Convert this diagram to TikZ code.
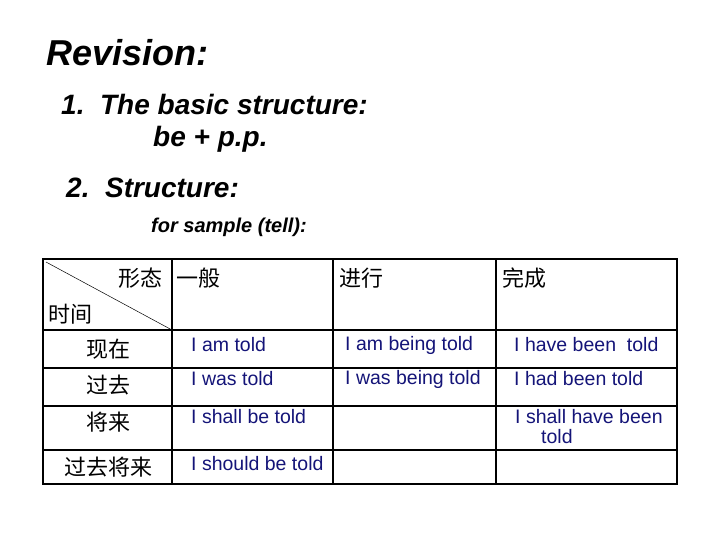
\documentclass[tikz,border=0pt]{standalone}
\usepackage{fontspec}
\setmainfont{Liberation Sans}
\newfontfamily\cjk{Noto Sans CJK SC}
\definecolor{navy}{RGB}{20,20,120}
\begin{document}
\begin{tikzpicture}[x=1pt,y=-1pt,
  head/.style={anchor=west,inner sep=0pt,font=\bfseries\itshape},
  en/.style={anchor=west,inner sep=0pt,text=navy,font=\fontsize{19.5}{19.5}\selectfont},
  zh/.style={inner sep=0pt,font=\cjk\fontsize{22}{22}\selectfont},
  grid/.style={line width=1.2pt}]
\useasboundingbox (0,0) rectangle (720,540);
\node[head,font=\bfseries\itshape\fontsize{36}{36}\selectfont] (t0) at (46,53) {Revision:};
\node[head,font=\bfseries\itshape\fontsize{28}{28}\selectfont] (t1) at (61,104) {1.\ \ The basic structure:};
\node[head,font=\bfseries\itshape\fontsize{28}{28}\selectfont] (t2) at (153,139) {be + p.p.};
\node[head,font=\bfseries\itshape\fontsize{28}{28}\selectfont] (t3) at (66,188) {2.\ \ Structure:};
\node[head,font=\bfseries\itshape\fontsize{20}{20}\selectfont] (t4) at (151,227) {for sample (tell):};
% table
\draw[grid] (43,259) rectangle (677,484);
\foreach \x in {172,333,496} \draw[grid] (\x,259) -- (\x,484);
\foreach \y in {330,368,406,450} \draw[grid] (43,\y) -- (677,\y);
\draw[line width=0.5pt] (46,262) -- (172,330);
\node[zh,anchor=east] (h1) at (163,278) {形态};
\node[zh,anchor=west] (h0) at (48,314) {时间};
\node[zh,anchor=west] (h2) at (176,278) {一般};
\node[zh,anchor=west] (h3) at (339,278) {进行};
\node[zh,anchor=west] (h4) at (502,278) {完成};
\node[zh] (r1) at (108,349) {现在};
\node[zh] (r2) at (108,385) {过去};
\node[zh] (r3) at (108,422) {将来};
\node[zh] (r4) at (108,467) {过去将来};
\node[en] (a1) at (191,345) {I am told};
\node[en] (a2) at (345,345) {I am being told};
\node[en] (a3) at (514,345) {I have been\ \ told};
\node[en] (b1) at (191,379) {I was told};
\node[en] (b2) at (345,379) {I was being told};
\node[en] (b3) at (514,379) {I had been told};
\node[en] (c1) at (191,417) {I shall be told};
\node[en] (c3) at (515,417) {I shall have been};
\node[en] (c4) at (541,437) {told};
\node[en] (d1) at (191,464) {I should be told};
\end{tikzpicture}
\end{document}
